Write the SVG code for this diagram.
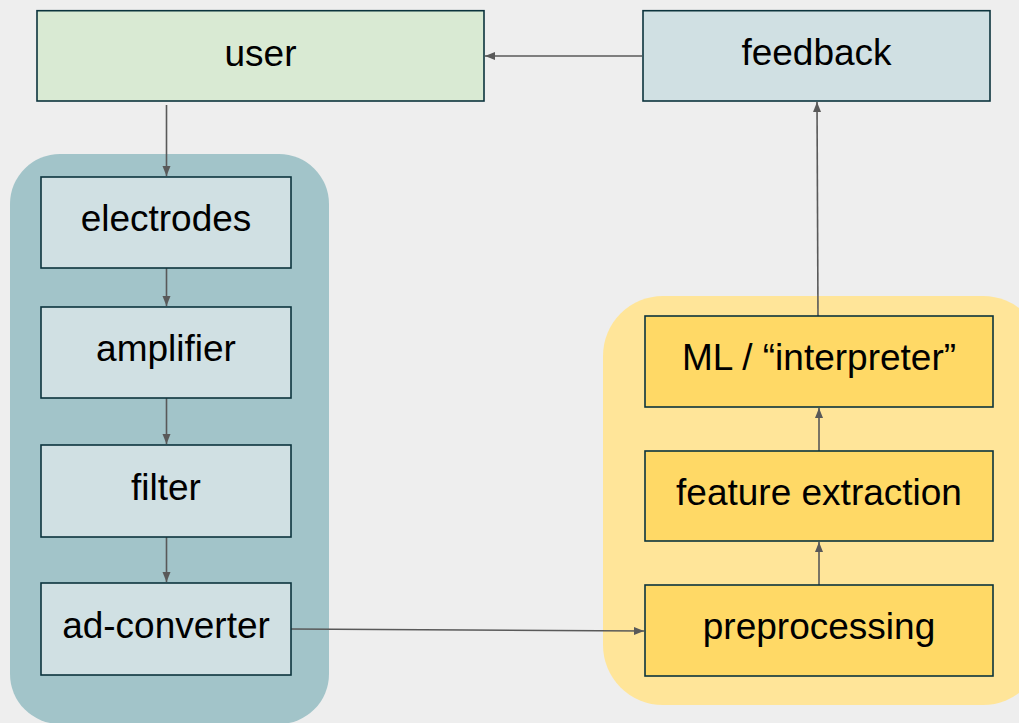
<svg xmlns="http://www.w3.org/2000/svg" width="1019" height="723" viewBox="0 0 1019 723">
<defs>
<marker id="arr" viewBox="0 0 10 10" refX="10" refY="5" markerWidth="10" markerHeight="10" markerUnits="userSpaceOnUse" orient="auto">
<path d="M0,1 L10,5 L0,9 Z" fill="#595959"/>
</marker>
<style>
.node{stroke:#0c343d;stroke-width:1.6}
.t{font-family:"Liberation Sans",Arial,sans-serif;font-size:37px;fill:#000;text-anchor:middle}
.c{stroke:#595959;stroke-width:1.6;fill:none;marker-end:url(#arr)}
.green{fill:#d9ead3}
.blue{fill:#d0e0e3}
.yellow{fill:#ffd966}
</style>
</defs>
<rect x="0" y="0" width="1019" height="723" fill="#eeeeee"/>
<g id="group-hardware"><rect x="10" y="154" width="319" height="570" rx="50" fill="#a2c4c9"/></g>
<g id="group-software"><rect x="603" y="296" width="440" height="409" rx="60" fill="#ffe599"/></g>
<g id="connectors">
<line class="c" x1="642" y1="56" x2="485" y2="56"/>
<line class="c" x1="166.5" y1="105" x2="166.5" y2="176"/>
<line class="c" x1="166.5" y1="268" x2="166.5" y2="306"/>
<line class="c" x1="166.5" y1="398" x2="166.5" y2="444"/>
<line class="c" x1="166.5" y1="537" x2="166.5" y2="582"/>
<line class="c" x1="291" y1="629" x2="644" y2="631"/>
<line class="c" x1="819" y1="585" x2="819" y2="542"/>
<line class="c" x1="819" y1="451" x2="819" y2="408"/>
<line class="c" x1="818" y1="316" x2="817" y2="102"/>
</g>
<g id="user"><rect class="node green" x="37" y="10.7" width="447" height="90.3"/><text class="t" x="260.5" y="66">user</text></g>
<g id="feedback"><rect class="node blue" x="643" y="10.7" width="347" height="90.3"/><text class="t" x="816.5" y="65">feedback</text></g>
<g id="electrodes"><rect class="node blue" x="41" y="177" width="250" height="91"/><text class="t" x="166" y="231">electrodes</text></g>
<g id="amplifier"><rect class="node blue" x="41" y="307" width="250" height="91"/><text class="t" x="166" y="361">amplifier</text></g>
<g id="filter"><rect class="node blue" x="41" y="445" width="250" height="92"/><text class="t" x="166" y="500">filter</text></g>
<g id="ad-converter"><rect class="node blue" x="41" y="583" width="250" height="92"/><text class="t" x="166" y="638">ad-converter</text></g>
<g id="ml"><rect class="node yellow" x="645" y="316" width="348" height="91"/><text class="t" x="819" y="370">ML / “interpreter”</text></g>
<g id="feature-extraction"><rect class="node yellow" x="645" y="451" width="348" height="90"/><text class="t" x="819" y="505">feature extraction</text></g>
<g id="preprocessing"><rect class="node yellow" x="645" y="585" width="348" height="91"/><text class="t" x="819" y="639">preprocessing</text></g>
</svg>
